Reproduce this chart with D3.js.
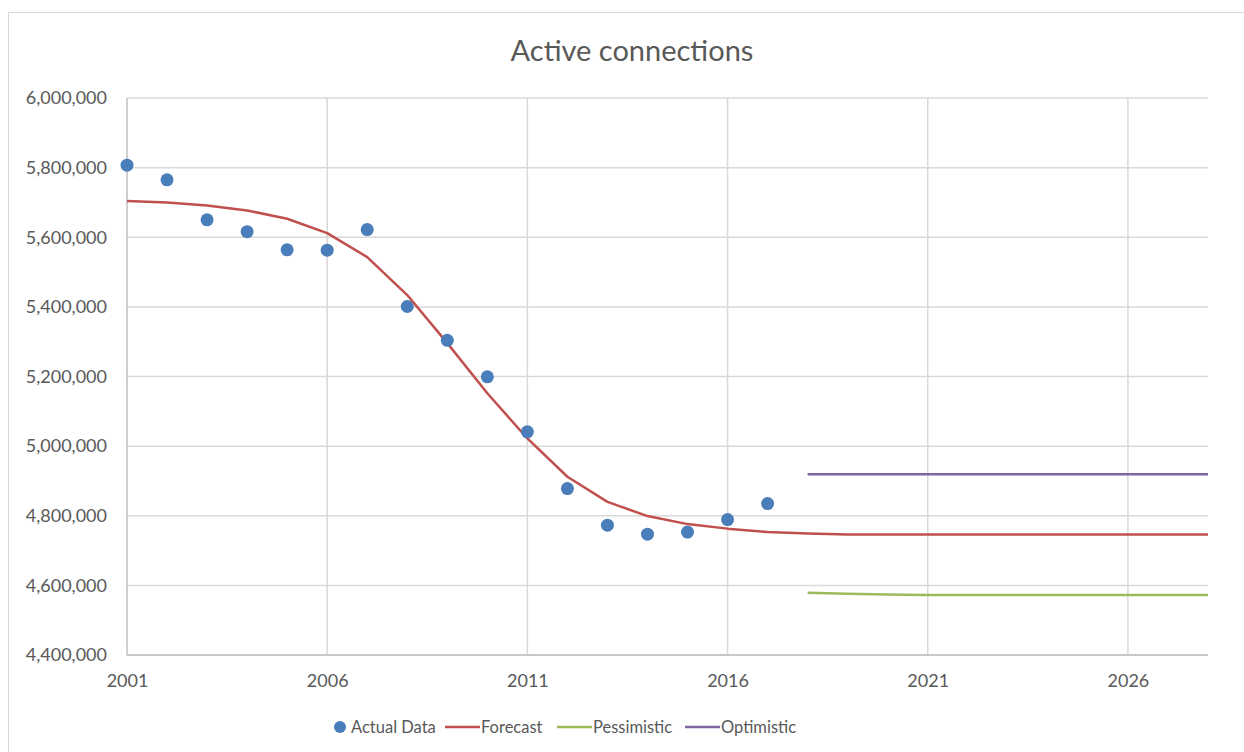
<!DOCTYPE html>
<html>
<head>
<meta charset="utf-8">
<script src="https://cdn.jsdelivr.net/npm/d3@7"></script>
<style>
  body { margin: 0; background: #fff; }
  svg { font-family: Lato, "Open Sans", sans-serif; display: block; }
</style>
</head>
<body>
<svg width="1244" height="752"></svg>
<script>
const actualYears = [2001, 2002, 2003, 2004, 2005, 2006, 2007, 2008, 2009, 2010, 2011, 2012, 2013, 2014, 2015, 2016, 2017];
const actualValues = [5807000, 5765000, 5650000, 5616000, 5564000, 5563000, 5622000, 5401000, 5304000, 5199000, 5041000, 4878000, 4773000, 4747000, 4753000, 4789000, 4835000];

const forecastYears = d3.range(2001, 2029);
const forecastValues = [5704000, 5700000, 5691000, 5677000, 5653000, 5612000, 5543000, 5434000, 5296000, 5152000, 5022000, 4912000, 4840000, 4799000, 4776000, 4763000, 4753000, 4749000, 4746000, 4746000, 4746000, 4746000, 4746000, 4746000, 4746000, 4746000, 4746000, 4746000];

const scenarioYears = d3.range(2018, 2029);
const pessimisticValues = [4579000, 4576000, 4574000, 4572000, 4572000, 4572000, 4572000, 4572000, 4572000, 4572000, 4572000];
const optimisticValues = [4919000, 4919000, 4919000, 4919000, 4919000, 4919000, 4919000, 4919000, 4919000, 4919000, 4919000];

const xTicks = [2001, 2006, 2011, 2016, 2021, 2026];
const yTicks = [4400000, 4600000, 4800000, 5000000, 5200000, 5400000, 5600000, 5800000, 6000000];

const colors = {
    actual: "#4a7ebb",
    forecast: "#c0504d",
    pessimistic: "#9bbb59",
    optimistic: "#8064a2"
};

const svg = d3.select("svg");
const width = +svg.attr("width");
const height = +svg.attr("height");
const margin = {top: 98, right: 36, bottom: 97, left: 127};
const innerWidth = width - margin.left - margin.right;
const innerHeight = height - margin.top - margin.bottom;

// chart frame: only left and top borders are visible in the source
svg.append("line")
    .attr("x1", 8.5).attr("x2", 8.5).attr("y1", 12).attr("y2", height)
    .attr("stroke", "#d9d9d9");
svg.append("line")
    .attr("x1", 8).attr("x2", width).attr("y1", 12.5).attr("y2", 12.5)
    .attr("stroke", "#d9d9d9");

svg.append("text")
    .attr("x", 632).attr("y", 61)
    .attr("text-anchor", "middle")
    .attr("font-size", 29)
    .attr("fill", "#595959")
    .text("Active connections");

const x = d3.scaleLinear().domain([2001, 2028]).range([0, innerWidth]);
const y = d3.scaleLinear().domain([4400000, 6000000]).range([innerHeight, 0]);

const g = svg.append("g").attr("transform", `translate(${margin.left},${margin.top})`);

// gridlines
g.append("g")
    .selectAll("line")
    .data(yTicks)
    .join("line")
    .attr("x1", 0).attr("x2", innerWidth)
    .attr("y1", d => y(d)).attr("y2", d => y(d))
    .attr("stroke", "#d9d9d9").attr("stroke-width", 1.5);

g.append("g")
    .selectAll("line")
    .data(xTicks.slice(1))
    .join("line")
    .attr("x1", d => x(d)).attr("x2", d => x(d))
    .attr("y1", 0).attr("y2", innerHeight)
    .attr("stroke", "#d9d9d9").attr("stroke-width", 1.5);

// axis lines
g.append("line")
    .attr("x1", 0).attr("x2", 0).attr("y1", 0).attr("y2", innerHeight)
    .attr("stroke", "#bfbfbf").attr("stroke-width", 1.5);
g.append("line")
    .attr("x1", 0).attr("x2", innerWidth).attr("y1", innerHeight).attr("y2", innerHeight)
    .attr("stroke", "#bfbfbf").attr("stroke-width", 1.5);

// tick labels
const yAxis = g.append("g")
    .call(d3.axisLeft(y).tickValues(yTicks).tickSize(0).tickPadding(20).tickFormat(d3.format(",")));
yAxis.select(".domain").remove();
yAxis.selectAll("text").attr("font-size", 18).attr("fill", "#595959").attr("font-family", "Lato, sans-serif");

const xAxis = g.append("g")
    .attr("transform", `translate(0,${innerHeight})`)
    .call(d3.axisBottom(x).tickValues(xTicks).tickSize(0).tickPadding(19).tickFormat(d3.format("d")));
xAxis.select(".domain").remove();
xAxis.selectAll("text").attr("font-size", 18).attr("fill", "#595959").attr("font-family", "Lato, sans-serif");

// series
function drawLine(years, values, color) {
    const line = d3.line()
        .x((d, i) => x(years[i]))
        .y(d => y(d));
    g.append("path")
        .datum(values)
        .attr("fill", "none")
        .attr("stroke", color)
        .attr("stroke-width", 2.5)
        .attr("stroke-linejoin", "round")
        .attr("d", line);
}

drawLine(forecastYears, forecastValues, colors.forecast);
drawLine(scenarioYears, pessimisticValues, colors.pessimistic);
drawLine(scenarioYears, optimisticValues, colors.optimistic);

g.selectAll("circle.actual")
    .data(actualValues)
    .join("circle")
    .attr("class", "actual")
    .attr("cx", (d, i) => x(actualYears[i]))
    .attr("cy", d => y(d))
    .attr("r", 6.5)
    .attr("fill", colors.actual);

// legend
const legendY = 727;
const legend = svg.append("g").attr("font-size", 16.5).attr("fill", "#595959");
legend.append("circle").attr("cx", 340).attr("cy", legendY).attr("r", 6).attr("fill", colors.actual);
legend.append("text").attr("x", 351).attr("y", legendY + 6).text("Actual Data");

const legendLines = [
    {name: "Forecast", color: colors.forecast, x0: 445},
    {name: "Pessimistic", color: colors.pessimistic, x0: 557},
    {name: "Optimistic", color: colors.optimistic, x0: 685}
];
legendLines.forEach(l => {
    legend.append("line")
        .attr("x1", l.x0).attr("x2", l.x0 + 35)
        .attr("y1", legendY).attr("y2", legendY)
        .attr("stroke", l.color).attr("stroke-width", 2.5);
    legend.append("text").attr("x", l.x0 + 36).attr("y", legendY + 6).text(l.name);
});
</script>
</body>
</html>
